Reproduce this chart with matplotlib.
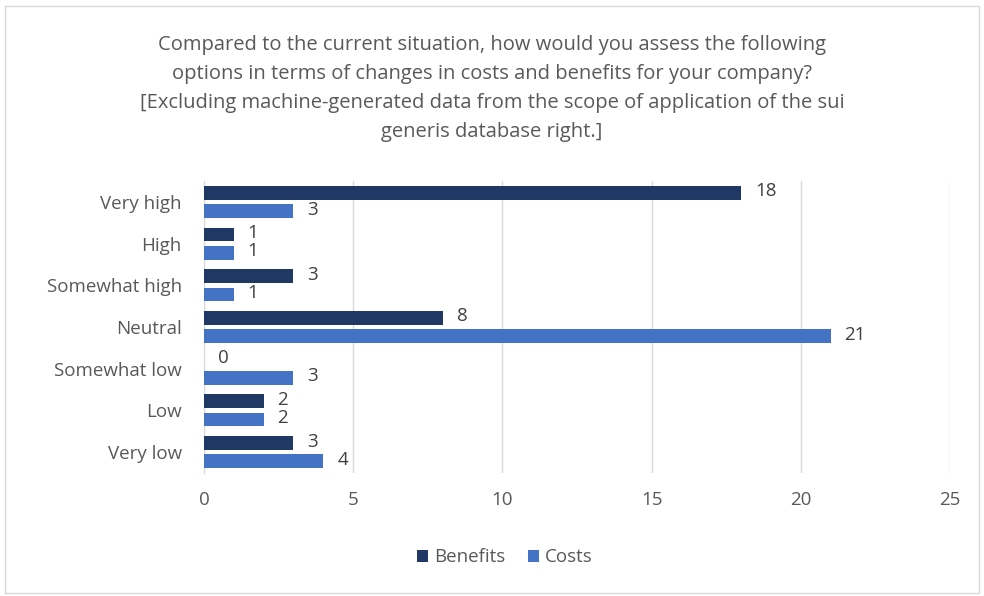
import matplotlib
matplotlib.use("Agg")
import matplotlib.pyplot as plt
import numpy as np
from matplotlib.patches import Rectangle

categories = ["Very high", "High", "Somewhat high", "Neutral", "Somewhat low", "Low", "Very low"]
benefits = [18, 1, 3, 8, 0, 2, 3]
costs = [3, 1, 1, 21, 3, 2, 4]
xticks = [0, 5, 10, 15, 20, 25]
title = ("Compared to the current situation, how would you assess the following\n"
         "options in terms of changes in costs and benefits for your company?\n"
         "[Excluding machine-generated data from the scope of application of the sui\n"
         "generis database right.]")

plt.rcParams['font.family'] = ['Open Sans', 'DejaVu Sans']
fig = plt.figure(figsize=(9.84, 5.96), dpi=100)
fig.patches.append(Rectangle((0.005, 0.005), 0.99, 0.985, transform=fig.transFigure,
                             fill=False, edgecolor="#d9d9d9", linewidth=1))
ax = fig.add_axes([0.2073, 0.2064, 0.7581, 0.4899])

n = len(categories)
ypos = np.arange(n)[::-1]
h = 0.33
off = 0.22
c_b = "#203864"
c_c = "#4472C4"
bb = ax.barh(ypos + off, benefits, height=h, color=c_b, label="Benefits", zorder=3)
bc = ax.barh(ypos - off, costs, height=h, color=c_c, label="Costs", zorder=3)
for bars, vals in ((bb, benefits), (bc, costs)):
    for r, v in zip(bars, vals):
        ax.annotate(str(v), (r.get_width(), r.get_y() + r.get_height() / 2),
                    xytext=(10, 1), textcoords="offset points", ha="left", va="center",
                    fontsize=13.5, color="#404040")

ax.set_xlim(0, 25)
ax.set_ylim(-0.5, n - 0.5)
ax.set_xticks(xticks)
ax.set_yticks(ypos)
ax.set_yticklabels(categories)
ax.tick_params(axis="both", length=0, labelsize=13.5, labelcolor="#595959")
ax.tick_params(axis="x", pad=13)
ax.tick_params(axis="y", pad=16)
ax.grid(axis="x", color="#d9d9d9", linewidth=1, zorder=0)
for s in ("top", "right", "bottom"):
    ax.spines[s].set_visible(False)
ax.spines["left"].set_color("#d9d9d9")

fig.text(0.5, 0.851, title, ha="center", va="center", fontsize=14.5, color="#595959",
         linespacing=1.6)

leg = fig.legend(handles=[bb, bc], loc="center", bbox_to_anchor=(0.513, 0.065), ncol=2,
                 frameon=False, fontsize=13.5, handlelength=0.6, handleheight=0.6,
                 handletextpad=0.3, columnspacing=1.2)
for t in leg.get_texts():
    t.set_color("#595959")

fig.savefig("out.png", dpi=100)
